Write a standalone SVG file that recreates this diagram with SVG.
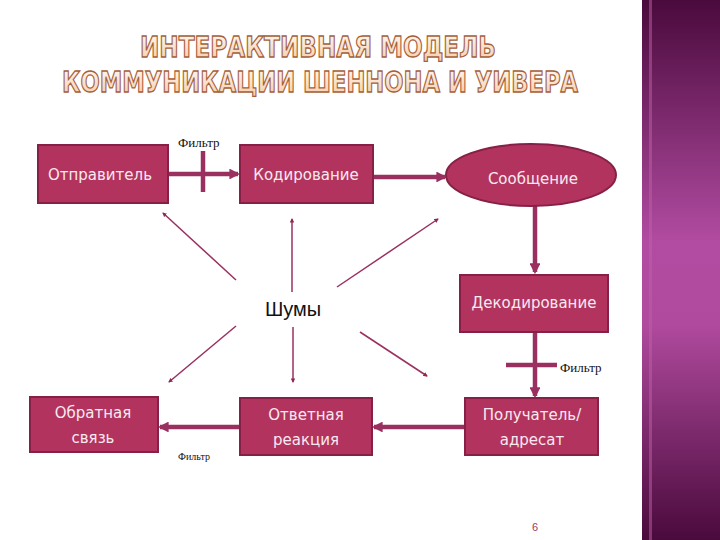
<svg xmlns="http://www.w3.org/2000/svg" width="720" height="540" viewBox="0 0 720 540">
<defs>
<linearGradient id="bar" x1="0" y1="0" x2="0" y2="1">
<stop offset="0" stop-color="#4a0a3c"/>
<stop offset="0.45" stop-color="#b24ca2"/>
<stop offset="0.6" stop-color="#b04a9e"/>
<stop offset="1" stop-color="#4a0a3c"/>
</linearGradient>
<linearGradient id="ttl" x1="0" y1="0" x2="0" y2="1">
<stop offset="0" stop-color="#fffaf4"/>
<stop offset="1" stop-color="#f6c8a4"/>
</linearGradient>
<marker id="ah" viewBox="0 0 10 10" refX="8" refY="5" markerWidth="3" markerHeight="3" orient="auto">
<path d="M0,0 L10,5 L0,10 z" fill="#8e2a52"/>
</marker>
<marker id="as" viewBox="0 0 10 10" refX="8" refY="5" markerWidth="2.4" markerHeight="2.4" orient="auto">
<path d="M0,0 L10,5 L0,10 z" fill="#9a3060"/>
</marker>
</defs>
<style>
.box{fill:#b3335f;stroke:#862046;stroke-width:2}
.lbl{font-family:"DejaVu Sans",sans-serif;font-size:15px;fill:#f8eaf0;text-anchor:middle}
.flt{font-family:"Liberation Serif",serif;font-size:13px;fill:#111}
.thick{stroke:#9a3060;stroke-width:4.5;fill:none}
.thin{stroke:#9a3060;stroke-width:1.5;fill:none}
.title{font-family:"DejaVu Sans",sans-serif;font-weight:bold;font-size:28px;fill:url(#ttl);stroke:#a4603a;stroke-width:1.3;text-anchor:middle}
</style>
<rect width="720" height="540" fill="#ffffff"/>
<rect x="642" y="0" width="78" height="540" fill="url(#bar)"/>
<rect x="649" y="0" width="3" height="540" fill="#c060a8" opacity="0.5"/>
<g id="title">
<text class="title" x="318" y="57" textLength="356" lengthAdjust="spacingAndGlyphs">ИНТЕРАКТИВНАЯ МОДЕЛЬ</text>
<text class="title" x="320" y="92" textLength="516" lengthAdjust="spacingAndGlyphs">КОММУНИКАЦИИ ШЕННОНА И УИВЕРА</text>
</g>
<g id="connectors">
<line class="thick" x1="168" y1="174" x2="238" y2="174" marker-end="url(#as)"/>
<line class="thick" x1="203" y1="151" x2="203" y2="192"/>
<line class="thick" x1="373" y1="177" x2="445" y2="177" marker-end="url(#as)"/>
<line class="thick" x1="535" y1="205" x2="535" y2="272" marker-end="url(#as)"/>
<line class="thick" x1="535" y1="332" x2="535" y2="396" marker-end="url(#as)"/>
<line class="thick" x1="506" y1="365" x2="557" y2="365"/>
<line class="thick" x1="465" y1="427" x2="374" y2="427" marker-end="url(#as)"/>
<line class="thick" x1="240" y1="427" x2="160" y2="427" marker-end="url(#as)"/>
<line class="thin" x1="236" y1="280" x2="163" y2="213" marker-end="url(#ah)"/>
<line class="thin" x1="292" y1="292" x2="292" y2="219" marker-end="url(#ah)"/>
<line class="thin" x1="337" y1="287" x2="438" y2="219" marker-end="url(#ah)"/>
<line class="thin" x1="236" y1="326" x2="169" y2="382" marker-end="url(#ah)"/>
<line class="thin" x1="293" y1="327" x2="293" y2="382" marker-end="url(#ah)"/>
<line class="thin" x1="360" y1="332" x2="427" y2="376" marker-end="url(#ah)"/>
</g>
<g id="filter1"><text class="flt" x="178" y="147">Фильтр</text></g>
<g id="filter2"><text class="flt" x="560" y="372">Фильтр</text></g>
<g id="filter3"><text class="flt" x="178" y="460" style="font-size:10px">Фильтр</text></g>
<g id="sender">
<rect class="box" x="38" y="145" width="130" height="58"/>
<text class="lbl" x="100" y="180">Отправитель</text>
</g>
<g id="coding">
<rect class="box" x="240" y="145" width="133" height="58"/>
<text class="lbl" x="306" y="180">Кодирование</text>
</g>
<g id="message">
<ellipse class="box" cx="531" cy="175" rx="85" ry="31"/>
<text class="lbl" x="533" y="184">Сообщение</text>
</g>
<g id="decoding">
<rect class="box" x="460" y="275" width="148" height="57"/>
<text class="lbl" x="534" y="308">Декодирование</text>
</g>
<g id="receiver">
<rect class="box" x="465" y="398" width="133" height="57"/>
<text class="lbl" x="532" y="420">Получатель/</text>
<text class="lbl" x="532" y="445">адресат</text>
</g>
<g id="response">
<rect class="box" x="240" y="398" width="132" height="57"/>
<text class="lbl" x="306" y="420">Ответная</text>
<text class="lbl" x="306" y="445">реакция</text>
</g>
<g id="feedback">
<rect class="box" x="30" y="397" width="128" height="55"/>
<text class="lbl" x="93" y="418">Обратная</text>
<text class="lbl" x="93" y="443">связь</text>
</g>
<g id="noise">
<text x="293" y="316" style="font-family:'Liberation Sans',sans-serif;font-size:20px;fill:#111;text-anchor:middle">Шумы</text>
</g>
<text x="535" y="531" style="font-family:'Liberation Sans',sans-serif;font-size:11px;fill:#a03868;text-anchor:middle">6</text>
</svg>
